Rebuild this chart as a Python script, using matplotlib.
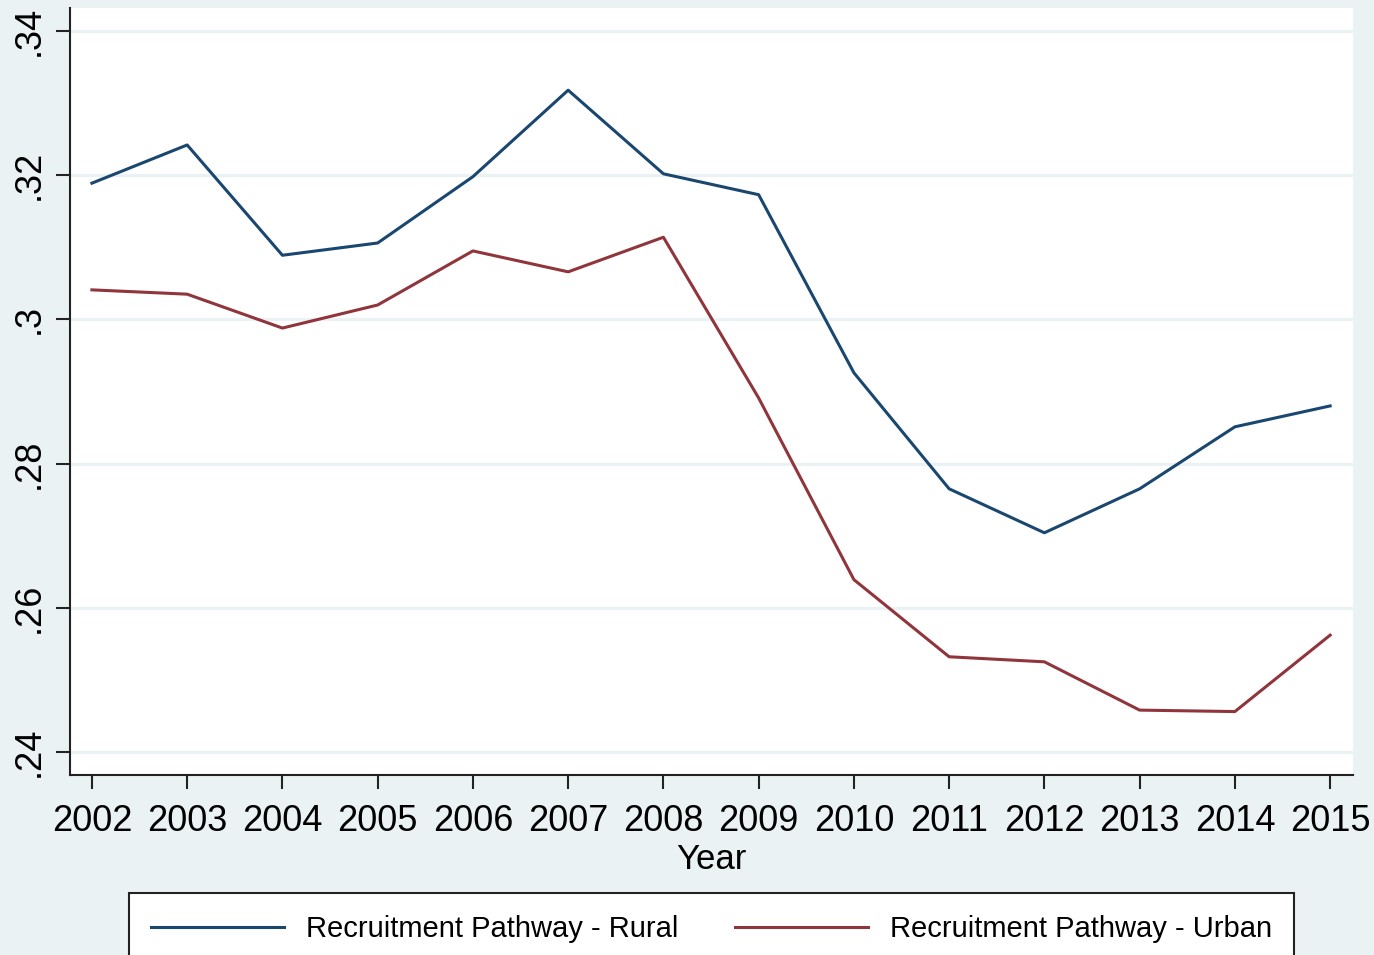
import matplotlib
matplotlib.use("Agg")
import matplotlib.pyplot as plt

plt.rcParams["font.family"] = ["Liberation Sans", "DejaVu Sans"]

years = [2002, 2003, 2004, 2005, 2006, 2007, 2008, 2009, 2010, 2011, 2012, 2013, 2014, 2015]
rural = [0.3189, 0.3242, 0.3089, 0.3106, 0.3198, 0.3318, 0.3202, 0.3173,
	0.2926, 0.2765, 0.2704, 0.2765, 0.2851, 0.2880]
urban = [0.3041, 0.3035, 0.2988, 0.3020, 0.3095, 0.3066, 0.3114, 0.2891,
	0.2639, 0.2532, 0.2525, 0.2458, 0.2456, 0.2562]
yticks = [0.24, 0.26, 0.28, 0.30, 0.32, 0.34]
ytick_labels = [".24", ".26", ".28", ".3", ".32", ".34"]

bg = "#eaf2f3"
navy = "#1a476f"
maroon = "#90353b"

fig = plt.figure(figsize = (13.74, 9.55), dpi = 100, facecolor = bg)
ax = fig.add_axes([70 / 1374., 1 - 775 / 955., (1353 - 70) / 1374., (775 - 8) / 955.],
	facecolor = "white")

ax.plot(years, rural, c = navy, lw = 2.2, label = "Recruitment Pathway - Rural")
ax.plot(years, urban, c = maroon, lw = 2.2, label = "Recruitment Pathway - Urban")

ax.set_xlim(2001.77, 2015.24)
ax.set_ylim(0.2368, 0.3432)
ax.set_xticks(years)
ax.set_xticklabels([str(y) for y in years], fontsize = 26)
ax.set_yticks(yticks)
ax.set_yticklabels(ytick_labels, fontsize = 26, rotation = 90, va = "center")
ax.yaxis.grid(True, color = bg, lw = 2.2)
ax.set_axisbelow(True)

for s in ["top", "right"]:
	ax.spines[s].set_visible(False)
for s in ["left", "bottom"]:
	ax.spines[s].set_color("#222222")
	ax.spines[s].set_linewidth(1.5)
ax.tick_params(axis = "both", length = 10, width = 1.5, color = "#222222")
ax.tick_params(axis = "x", pad = 11)
ax.tick_params(axis = "y", pad = 7)
ax.set_xlabel("Year", fontsize = 25, labelpad = 3)

leg = fig.legend(loc = "upper left", bbox_to_anchor = (129 / 1374., 1 - 893 / 955.),
	ncol = 2, fontsize = 21, frameon = True, fancybox = False, framealpha = 1,
	handlelength = 4.56, handletextpad = 0.75, columnspacing = 1.95,
	borderpad = 0.75, borderaxespad = 0)
leg.get_frame().set_edgecolor("#222222")
leg.get_frame().set_linewidth(1.5)
leg.get_frame().set_facecolor("white")

plt.savefig("out.png", dpi = 100, facecolor = bg)
